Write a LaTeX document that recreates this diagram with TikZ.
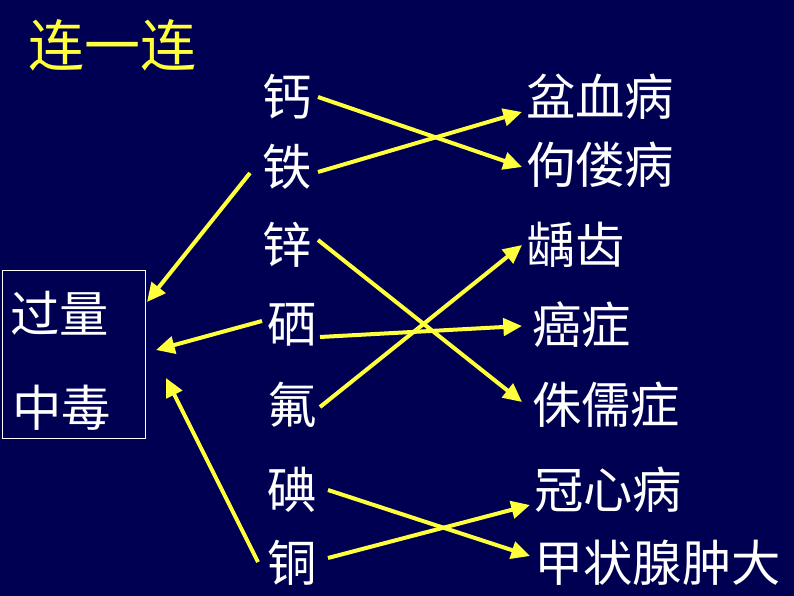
\documentclass[tikz,border=0pt]{standalone}
\usepackage{fontspec}
\newfontfamily\cjk{Noto Sans CJK SC}
\usetikzlibrary{arrows.meta}
\definecolor{bg}{RGB}{0,0,82}
\definecolor{yl}{RGB}{255,255,60}
\begin{document}
\begin{tikzpicture}[x=0.75pt,y=-0.75pt,
  t/.style={text=white,font=\cjk\fontsize{37}{40}\selectfont,inner sep=0pt,anchor=west},
  arr/.style={draw=yl,line width=3pt,-{Triangle[length=14pt,width=13pt]}}]
\fill[bg] (0,0) rectangle (794,596);
\node[t,text=yl,font=\cjk\fontsize{42}{44}\selectfont] (title) at (28,45) {连一连};
\node[t] (ga) at (262,97) {钙};
\node[t] (tie) at (262,167) {铁};
\node[t] (xin) at (262,245) {锌};
\node[t] (xi) at (267,325) {硒};
\node[t] (fu) at (267,405) {氟};
\node[t] (dian) at (267,490) {碘};
\node[t] (tong) at (267,563) {铜};
\node[t] (r1) at (526,97) {盆血病};
\node[t] (r2) at (526,165) {佝偻病};
\node[t] (r3) at (526,245) {龋齿};
\node[t] (r4) at (532,325) {癌症};
\node[t] (r5) at (532,405) {侏儒症};
\node[t] (r6) at (534,490) {冠心病};
\node[t] (r7) at (534,563) {甲状腺肿大};
\node[draw=white,line width=0.6pt,minimum width=143*0.75pt,minimum height=168*0.75pt,inner sep=0pt] (box) at (73.5,354) {};
\node[t] (g1) at (10,313) {过量};
\node[t] (g2) at (12,408) {中毒};
\coordinate (b1) at (147,302);
\coordinate (b2) at (156,350);
\coordinate (b3) at (166,378);
\draw[arr] (318,97) -- (522,167);
\draw[arr] (318,172) -- (522,112);
\draw[arr] (250,173) -- (b1);
\draw[arr] (318,240) -- (522,402);
\draw[arr] (320,337) -- (522,326);
\draw[arr] (262,321) -- (b2);
\draw[arr] (320,407) -- (522,245);
\draw[arr] (258,562) -- (b3);
\draw[arr] (328,490) -- (530,556);
\draw[arr] (328,558) -- (530,505);
\end{tikzpicture}
\end{document}
